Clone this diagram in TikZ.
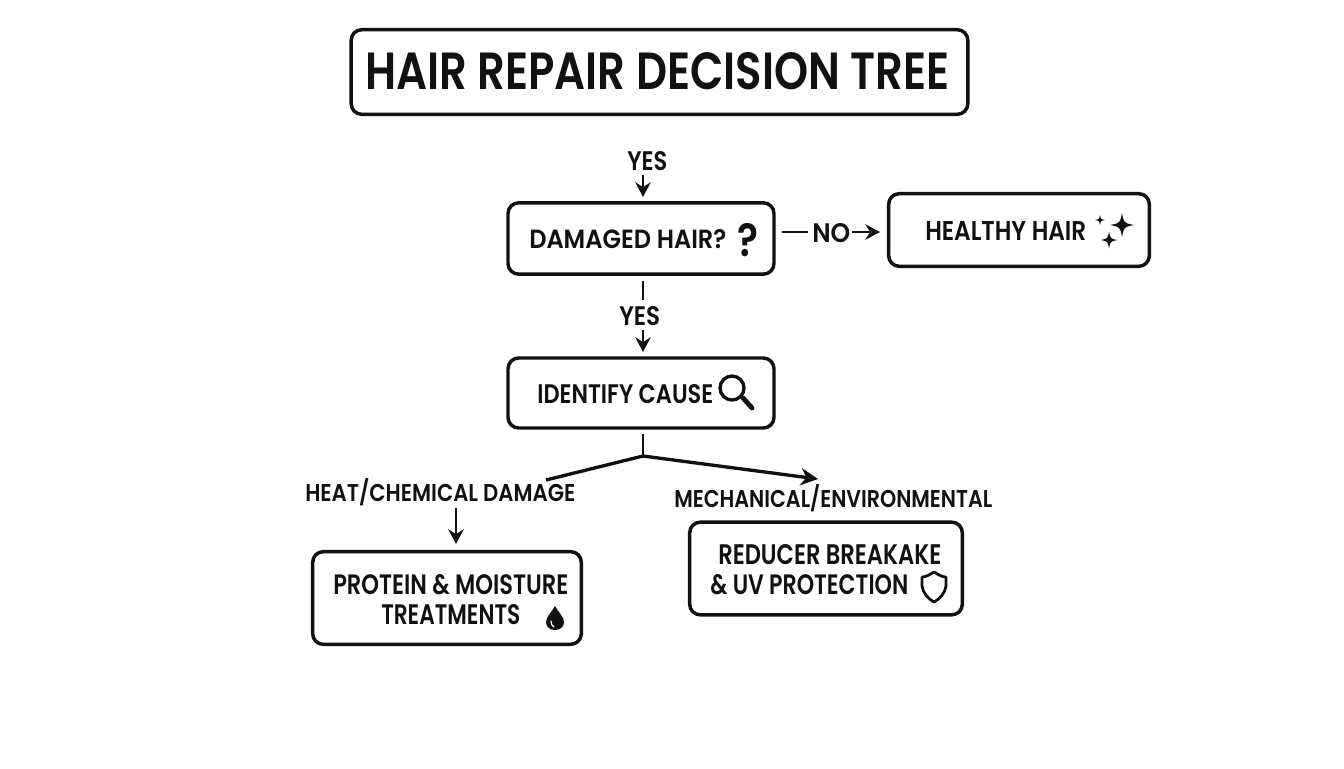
\documentclass[tikz,border=0pt]{standalone}
\usepackage{graphicx}
\usepackage{fontspec}
\setmainfont{Poppins}[BoldFont={Poppins SemiBold}]
\usetikzlibrary{arrows.meta}
\definecolor{ink}{HTML}{111111}
\newcommand\lab[3]{\resizebox{#1pt}{#2pt}{\textbf{#3}}}
% width and height are given in reference pixels (0.75pt each)
\newcommand\pxlab[3]{\pgfmathsetmacro\lw{#1*0.75}\pgfmathsetmacro\lh{#2*0.75}\lab{\lw}{\lh}{#3}}
\tikzset{
  x=0.75pt,y=-0.75pt,
  box/.style={draw=ink,line width=2.6pt,rounded corners=8pt,inner sep=0pt},
  txt/.style={anchor=base west,inner sep=0pt,text=ink},
  line/.style={draw=ink,line width=2.5pt},
  stub/.style={draw=ink,line width=1.7pt},
  arr/.style={line,-{Stealth[length=13pt,width=13pt]}},
  sarr/.style={draw=ink,line width=2pt,-{Stealth[length=11pt,width=11.5pt]}},
  icon/.style={draw=ink,line width=2.1pt,line join=round},
}
\newcommand\spark[3]{\fill[ink,shift={(#1,#2)},scale=#3] (0,-1) .. controls (.16,-.16) .. (1,0) .. controls (.16,.16) .. (0,1) .. controls (-.16,.16) .. (-1,0) .. controls (-.16,-.16) .. (0,-1) -- cycle;}
\begin{document}
\begin{tikzpicture}
\useasboundingbox[fill=white] (0,0) rectangle (1344,768);
% boxes
\node[box,minimum width=462.5pt,minimum height=63.5pt] (title) at (659.5,72) {};
\node[box,minimum width=199.5pt,minimum height=53.5pt] (dmg) at (641,238.5) {};
\node[box,minimum width=195.5pt,minimum height=54.5pt] (healthy) at (1019,230) {};
\node[box,minimum width=199.5pt,minimum height=52.5pt] (cause) at (641,393) {};
\node[box,minimum width=201.5pt,minimum height=69.5pt] (protein) at (447,598) {};
\node[box,minimum width=204.5pt,minimum height=69.5pt] (reduce) at (826,568.5) {};
% texts
\node[txt] (ttitle) at (365,89) {\pxlab{584}{37}{HAIR REPAIR DECISION TREE}};
\node[txt] (yesa) at (627,170) {\pxlab{40}{19}{YES}};
\node[txt] (tdmg) at (529,248) {\pxlab{197}{19}{DAMAGED HAIR?}};
\node[txt] (qm) at (737,256) {\pxlab{21}{33}{?}};
\node[txt] (no) at (812,242) {\pxlab{38}{19}{NO}};
\node[txt] (thealthy) at (925,240) {\pxlab{161}{19}{HEALTHY HAIR}};
\node[txt] (yesb) at (619,325) {\pxlab{41}{19}{YES}};
\node[txt] (tcause) at (537,403) {\pxlab{176}{19}{IDENTIFY CAUSE}};
\node[txt] (heat) at (305,501) {\pxlab{270}{23}{HEAT/CHEMICAL DAMAGE}};
\node[txt] (mech) at (674,507) {\pxlab{318}{23}{MECHANICAL/ENVIRONMENTAL}};
\node[txt] (pa) at (333,594) {\pxlab{235}{20}{PROTEIN \& MOISTURE}};
\node[txt] (pb) at (381,624) {\pxlab{139}{20}{TREATMENTS}};
\node[txt] (ra) at (718,564) {\pxlab{223}{20}{REDUCER BREAKAKE}};
\node[txt] (rb) at (710,594) {\pxlab{198}{20}{\& UV PROTECTION}};
% connector ends
\coordinate (a1) at (643,175); \coordinate (a2) at (643,197);
\coordinate (n1) at (782,232); \coordinate (n2) at (808,232);
\coordinate (n3) at (852,232); \coordinate (n4) at (880,232);
\coordinate (b1) at (643,281); \coordinate (b2) at (643,300);
\coordinate (b3) at (643,330); \coordinate (b4) at (643,352);
\coordinate (c1) at (643,434); \coordinate (j) at (643,456);
\coordinate (c2) at (546,480); \coordinate (c3) at (818,479);
\coordinate (d1) at (456,508); \coordinate (d2) at (456,544);
% connectors
\draw[sarr] (a1) -- (a2);
\draw[stub] (n1) -- (n2);
\draw[sarr] (n3) -- (n4);
\draw[stub] (b1) -- (b2);
\draw[sarr] (b3) -- (b4);
\draw[stub] (c1) -- (j);
\draw[line] (j) -- (c2);
\draw[arr] (j) -- (c3);
\draw[sarr] (d1) -- (d2);
% sparkles
\spark{1122}{225}{12}
\spark{1109}{240}{8.5}
\spark{1100}{220}{5}
% magnifier
\draw[icon,line width=2.5pt] (732,388) circle[radius=12];
\draw[ink,line width=3.6pt,line cap=round] (743,398) -- (752,408);
% drop
\fill[ink] (555,606) .. controls (551,613) and (546,617) .. (546,622) .. controls (546,627) and (550,630) .. (555,630) .. controls (560,630) and (564,627) .. (564,622) .. controls (564,617) and (559,613) .. (555,606) -- cycle;
\draw[white,line width=0.9pt,line cap=round] (551,621) .. controls (551,624) and (552,626) .. (554,627);
% shield
\draw[icon] (934,572) .. controls (929,575) and (926,577) .. (922,577) -- (922,586) .. controls (923,593) and (928,599) .. (934,602) .. controls (940,599) and (945,593) .. (946,586) -- (946,577) .. controls (942,577) and (939,575) .. (934,572) -- cycle;
\end{tikzpicture}
\end{document}
